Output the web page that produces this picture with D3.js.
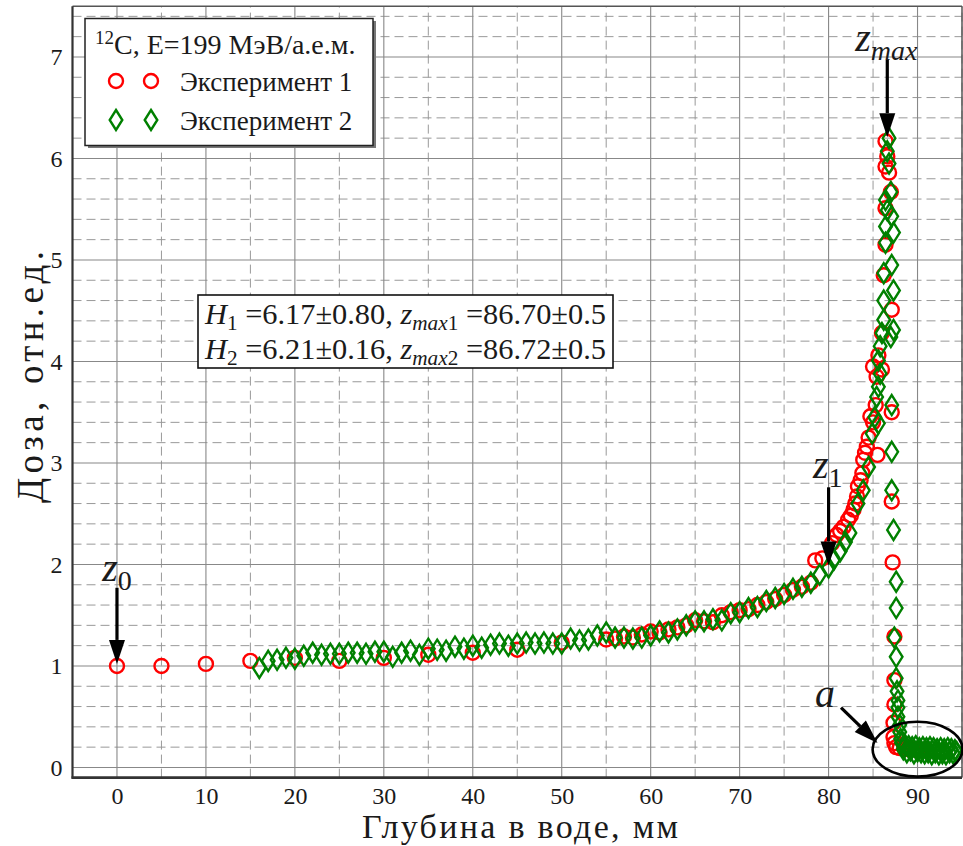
<!DOCTYPE html>
<html>
<head>
  <title>Доза</title>
  <meta charset="utf-8">
  <script src="https://cdn.jsdelivr.net/npm/d3@7"></script>
  <style>
    body { margin: 0; background: #fff; }
    text { font-family: "Liberation Serif", serif; fill: #1a1a1a; }
  </style>
</head>
<body>
<script>
  // Эксперимент 1 (красные кружки)
  var exp1X = [0, 5, 10, 15, 20, 25, 30, 35, 40, 45, 50,
    55, 56, 57, 58, 59, 60, 61, 62, 63, 64, 65, 66, 67, 68, 69, 70, 71, 72, 73, 74, 75, 76, 77, 78, 78.5, 79.3,
    80.4, 80.9, 81.3, 81.7, 82.2, 82.5, 82.8, 83.0, 83.2, 83.3, 83.6, 83.8, 83.9, 84.1, 84.3, 84.5, 84.7, 85.0, 85.3, 85.5, 85.0, 85.6, 86.0, 85.4, 86.0,
    86.2, 86.4, 86.4, 87.0, 86.8, 86.4, 86.6, 86.4,
    87.1, 87.1, 87.1, 87.2, 87.4, 87.4, 87.4, 87.3, 87.3, 87.4, 87.6, 88.0, 88.5, 89.0, 89.5, 90.0];
  var exp1Y = [1.00, 1.00, 1.02, 1.05, 1.08, 1.05, 1.08, 1.11, 1.13, 1.16, 1.23,
    1.26, 1.27, 1.29, 1.28, 1.31, 1.34, 1.33, 1.36, 1.38, 1.40, 1.45, 1.44, 1.43, 1.50, 1.53, 1.55, 1.56, 1.60, 1.63, 1.66, 1.70, 1.75, 1.78, 1.82, 2.04, 2.06,
    2.21, 2.29, 2.33, 2.37, 2.44, 2.48, 2.54, 2.60, 2.67, 2.77, 2.83, 2.90, 3.03, 3.10, 3.16, 3.25, 3.46, 3.40, 3.57, 3.08, 3.95, 4.06, 3.92, 3.85, 4.28,
    4.85, 5.15, 5.51, 5.67, 5.86, 5.92, 6.02, 6.17,
    4.51, 3.50, 2.62, 2.02, 1.29, 0.86, 0.62, 0.44, 0.30, 0.24, 0.20, 0.19, 0.19, 0.18, 0.18, 0.17];

  // Эксперимент 2 (зелёные ромбы)
  var exp2X = [16, 17, 18, 19, 20, 21, 22, 23, 24, 25, 26, 27, 28, 29, 30, 31, 32, 33, 34, 35, 36, 37, 38, 39, 40,
    41, 42, 43, 44, 45, 46, 47, 48, 49, 50, 51, 52, 53, 54, 55, 56, 57, 58, 59, 60, 61, 62, 63, 64, 65,
    66, 67, 68, 69, 70, 71, 72, 73, 74, 75, 76, 77, 78, 79,
    80.0, 80.6, 81.3, 81.9, 82.4, 83.3, 83.9, 84.5, 84.9, 85.2, 85.6, 85.4, 85.6, 85.8, 85.6, 85.8, 86.0, 86.2, 86.2, 86.2, 86.4, 86.4, 86.6, 86.4, 87.0, 86.8, 86.6, 86.8,
    87.1, 87.3, 87.1, 87.3, 87.3, 87.0, 87.1, 87.1, 87.1, 87.3,
    87.6, 87.6, 87.4, 87.6, 87.6, 87.7, 87.8, 87.8, 87.8, 88.0, 88.0, 88.1,
    88.2, 88.4, 88.6, 88.8, 89.0, 89.2, 89.4, 89.6, 89.8, 90.0, 90.2, 90.4, 90.6, 90.8, 91.0, 91.2,
    91.4, 91.6, 91.8, 92.0, 92.2, 92.4, 92.6, 92.8, 93.0, 93.2, 93.4, 93.6, 93.8, 94.0, 94.2, 94.4];
  var exp2Y = [0.98, 1.05, 1.06, 1.08, 1.07, 1.10, 1.13, 1.11, 1.12, 1.12, 1.13, 1.13, 1.12, 1.14, 1.14, 1.09, 1.13, 1.15, 1.11, 1.17, 1.16, 1.15, 1.19, 1.17, 1.20,
    1.18, 1.21, 1.22, 1.20, 1.22, 1.23, 1.22, 1.23, 1.22, 1.22, 1.27, 1.25, 1.26, 1.30, 1.33, 1.28, 1.28, 1.27, 1.28, 1.30, 1.34, 1.33, 1.36, 1.40, 1.44,
    1.44, 1.46, 1.45, 1.52, 1.53, 1.57, 1.58, 1.64, 1.67, 1.71, 1.76, 1.78, 1.82, 1.90,
    1.97, 2.05, 2.13, 2.22, 2.31, 2.60, 2.73, 2.96, 3.29, 3.45, 3.39, 3.65, 3.75, 3.88, 4.01, 4.15, 4.28, 4.41, 4.60, 4.87, 5.17, 5.33, 5.49, 5.59, 5.67, 5.95, 6.07, 6.20,
    5.43, 5.27, 4.95, 4.70, 4.31, 4.24, 3.57, 3.11, 2.73, 2.34,
    1.83, 1.57, 1.28, 1.09, 0.88, 0.75, 0.66, 0.59, 0.50, 0.42, 0.35, 0.28,
    0.24, 0.18, 0.22, 0.15, 0.21, 0.17, 0.20, 0.14, 0.21, 0.16, 0.19, 0.15, 0.20, 0.14, 0.19, 0.15,
    0.20, 0.13, 0.19, 0.15, 0.18, 0.13, 0.19, 0.14, 0.18, 0.13, 0.19, 0.15, 0.18, 0.14, 0.17, 0.15];

  var xTicks = [0, 10, 20, 30, 40, 50, 60, 70, 80, 90];
  var xMinor = [5, 15, 25, 35, 45, 55, 65, 75, 85, 95];
  var yTicks = [0, 1, 2, 3, 4, 5, 6, 7];
  var yMinor = [0.2, 0.4, 0.6, 0.8, 1.2, 1.4, 1.6, 1.8, 2.2, 2.4, 2.6, 2.8, 3.2, 3.4, 3.6, 3.8,
    4.2, 4.4, 4.6, 4.8, 5.2, 5.4, 5.6, 5.8, 6.2, 6.4, 6.6, 6.8, 7.2, 7.4];

  var width = 963, height = 846;
  var margin = {top: 6.2, right: 1, bottom: 68.4, left: 72.5};

  var svg = d3.select("body").append("svg")
    .attr("width", width)
    .attr("height", height);

  var x = d3.scaleLinear()
    .domain([-5, 95])
    .range([margin.left, width - margin.right]);

  var y = d3.scaleLinear()
    .domain([-0.1, 7.5])
    .range([height - margin.bottom, margin.top]);

  // сетка
  var grid = svg.append("g");
  grid.selectAll(".xminor").data(xMinor).join("line")
    .attr("x1", d => x(d)).attr("x2", d => x(d))
    .attr("y1", y.range()[0]).attr("y2", y.range()[1])
    .attr("stroke", "#999").attr("stroke-width", 1).attr("stroke-dasharray", "9,5");
  grid.selectAll(".yminor").data(yMinor).join("line")
    .attr("y1", d => y(d)).attr("y2", d => y(d))
    .attr("x1", x.range()[0]).attr("x2", x.range()[1])
    .attr("stroke", "#999").attr("stroke-width", 1).attr("stroke-dasharray", "9,5");
  grid.selectAll(".xmajor").data(xTicks).join("line")
    .attr("x1", d => x(d)).attr("x2", d => x(d))
    .attr("y1", y.range()[0]).attr("y2", y.range()[1])
    .attr("stroke", "#888").attr("stroke-width", 1.1);
  grid.selectAll(".ymajor").data(yTicks).join("line")
    .attr("y1", d => y(d)).attr("y2", d => y(d))
    .attr("x1", x.range()[0]).attr("x2", x.range()[1])
    .attr("stroke", "#888").attr("stroke-width", 1.1);

  // оси
  svg.append("g")
    .attr("transform", `translate(0,${y.range()[0]})`)
    .call(d3.axisBottom(x).tickValues(xTicks).tickSize(0).tickPadding(9))
    .call(g => g.select(".domain").remove())
    .call(g => g.selectAll("text").attr("font-family", "Liberation Serif").attr("font-size", 24).attr("fill", "#222"));

  svg.append("g")
    .attr("transform", `translate(${x.range()[0]},0)`)
    .call(d3.axisLeft(y).tickValues(yTicks).tickSize(0).tickPadding(10))
    .call(g => g.select(".domain").remove())
    .call(g => g.selectAll("text").attr("font-family", "Liberation Serif").attr("font-size", 24).attr("fill", "#222"));

  // рамка
  svg.append("line").attr("x1", x.range()[0]).attr("x2", x.range()[1]).attr("y1", y.range()[1]).attr("y2", y.range()[1])
    .attr("stroke", "#555").attr("stroke-width", 1.5);
  svg.append("line").attr("x1", x.range()[1]).attr("x2", x.range()[1]).attr("y1", y.range()[1]).attr("y2", y.range()[0])
    .attr("stroke", "#555").attr("stroke-width", 1.5);
  svg.append("line").attr("x1", x.range()[0]).attr("x2", x.range()[0]).attr("y1", y.range()[1]).attr("y2", y.range()[0] + 1)
    .attr("stroke", "#333").attr("stroke-width", 2.2);
  svg.append("line").attr("x1", x.range()[0] - 1).attr("x2", x.range()[1]).attr("y1", y.range()[0]).attr("y2", y.range()[0])
    .attr("stroke", "#333").attr("stroke-width", 2.6);

  // подписи осей
  svg.append("text")
    .attr("x", 520).attr("y", 838)
    .attr("text-anchor", "middle")
    .attr("font-size", 34)
    .attr("textLength", 316).attr("lengthAdjust", "spacing")
    .text("Глубина в воде, мм");

  svg.append("text")
    .attr("transform", "translate(43,377) rotate(-90)")
    .attr("text-anchor", "middle")
    .attr("font-size", 37)
    .attr("textLength", 252).attr("lengthAdjust", "spacing")
    .text("Доза, отн.ед.");

  // точки
  var diamond = "M0,-10L6.3,0L0,10L-6.3,0Z";
  var pts1 = exp1X.map((d, i) => [d, exp1Y[i]]);
  var pts2 = exp2X.map((d, i) => [d, exp2Y[i]]);

  svg.append("g").selectAll("circle").data(pts1).join("circle")
    .attr("cx", d => x(d[0])).attr("cy", d => y(d[1]))
    .attr("r", 7)
    .attr("fill", "none").attr("stroke", "#ff0000").attr("stroke-width", 2.4);

  svg.append("g").selectAll("path").data(pts2).join("path")
    .attr("transform", d => `translate(${x(d[0])},${y(d[1])})`)
    .attr("d", diamond)
    .attr("fill", "none").attr("stroke", "#008000").attr("stroke-width", 2.4);

  // стрелки
  function arrow(x0, y0, x1, y1) {
    var px0 = x(x0), py0 = y(y0), px1 = x(x1), py1 = y(y1);
    var a = Math.atan2(py1 - py0, px1 - px0), len = 24, hw = 8;
    var bx = px1 - len * Math.cos(a), by = py1 - len * Math.sin(a);
    svg.append("line")
      .attr("x1", px0).attr("y1", py0).attr("x2", bx).attr("y2", by)
      .attr("stroke", "#000").attr("stroke-width", 3.2);
    svg.append("path")
      .attr("d", `M${px1},${py1}L${bx - hw * Math.sin(a)},${by + hw * Math.cos(a)}L${bx + hw * Math.sin(a)},${by - hw * Math.cos(a)}Z`)
      .attr("fill", "#000");
  }

  arrow(0, 1.77, 0, 1.02);
  arrow(80, 2.76, 80, 1.99);
  arrow(86.6, 6.97, 86.6, 6.21);
  arrow(81.4, 0.59, 85.5, 0.24);

  function zLabel(px, py, sub, italicSub) {
    var t = svg.append("text").attr("x", px).attr("y", py).attr("text-anchor", "middle").attr("font-size", 40);
    t.append("tspan").attr("font-style", "italic").text("z");
    t.append("tspan").attr("dy", 9).attr("font-size", 28).attr("font-style", italicSub ? "italic" : "normal").text(sub);
  }
  zLabel(x(0), y(1.92) + 8, "0", false);
  zLabel(x(79.9), y(2.93) + 8, "1", false);
  zLabel(x(86.5), y(7.12) + 6, "max", true);

  svg.append("text")
    .attr("x", x(79.6)).attr("y", y(0.69) + 10)
    .attr("text-anchor", "middle")
    .attr("font-size", 40).attr("font-style", "italic")
    .text("a");

  // эллипс вокруг хвоста
  svg.append("ellipse")
    .attr("cx", x(90.0)).attr("cy", y(0.18))
    .attr("rx", x(95.05) - x(90.0)).attr("ry", y(0.18) - y(0.45))
    .attr("fill", "none").attr("stroke", "#000").attr("stroke-width", 2.6);

  // блок с параметрами
  var box = svg.append("g");
  box.append("rect")
    .attr("x", 198).attr("y", 295).attr("width", 415).attr("height", 73)
    .attr("fill", "#fff").attr("stroke", "#111").attr("stroke-width", 1.6);

  function paramLine(py, idx, hv, zv) {
    var t = box.append("text").attr("x", 205).attr("y", py).attr("font-size", 30)
      .attr("textLength", 401).attr("lengthAdjust", "spacingAndGlyphs");
    t.append("tspan").attr("font-style", "italic").text("H");
    t.append("tspan").attr("dy", 6).attr("font-size", 21).text(idx);
    t.append("tspan").attr("dy", -6).text(" =" + hv + ", ");
    t.append("tspan").attr("font-style", "italic").text("z");
    t.append("tspan").attr("dy", 6).attr("font-size", 21).attr("font-style", "italic").text("max");
    t.append("tspan").attr("font-size", 21).text(idx);
    t.append("tspan").attr("dy", -6).text(" =" + zv);
  }
  paramLine(324, "1", "6.17±0.80", "86.70±0.5");
  paramLine(359, "2", "6.21±0.16", "86.72±0.5");

  // легенда
  var leg = svg.append("g");
  leg.append("rect")
    .attr("x", 88).attr("y", 21).attr("width", 288).attr("height", 127)
    .attr("fill", "#777");
  leg.append("rect")
    .attr("x", 85).attr("y", 18.5).attr("width", 288).attr("height", 127)
    .attr("fill", "#fff").attr("stroke", "#222").attr("stroke-width", 1.5);

  var title = leg.append("text").attr("x", 95).attr("y", 54).attr("font-size", 28);
  title.append("tspan").attr("dy", -10).attr("font-size", 19).text("12");
  title.append("tspan").attr("dy", 10).text("C, E=199 МэВ/а.е.м.");

  [116, 151].forEach(function(px) {
    leg.append("circle").attr("cx", px).attr("cy", 81).attr("r", 7)
      .attr("fill", "none").attr("stroke", "#ff0000").attr("stroke-width", 2.4);
    leg.append("path").attr("transform", `translate(${px},120)`).attr("d", diamond)
      .attr("fill", "none").attr("stroke", "#008000").attr("stroke-width", 2.4);
  });
  leg.append("text").attr("x", 180).attr("y", 91).attr("font-size", 27).text("Эксперимент 1");
  leg.append("text").attr("x", 180).attr("y", 130).attr("font-size", 27).text("Эксперимент 2");
</script>
</body>
</html>
